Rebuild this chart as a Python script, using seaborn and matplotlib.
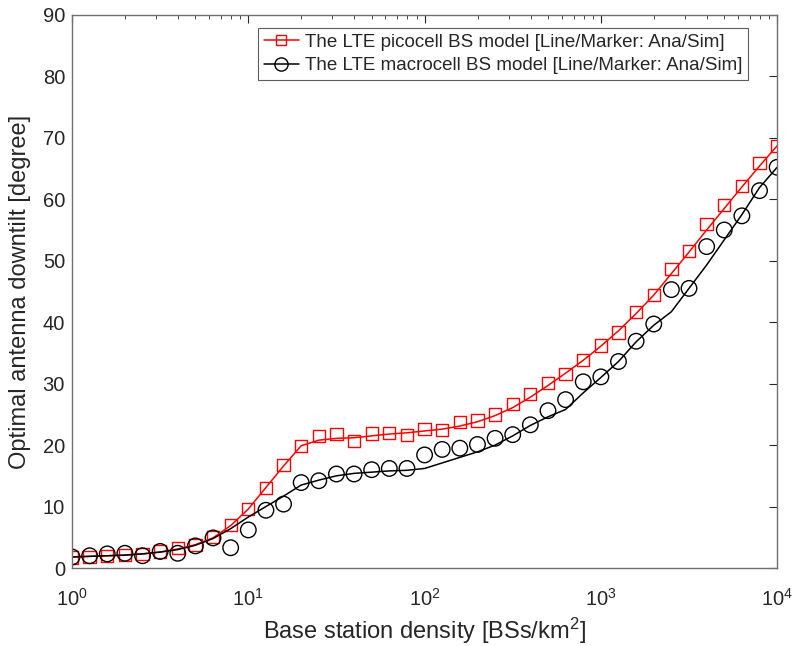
import numpy as np
import pandas as pd
import matplotlib
matplotlib.use("Agg")
import matplotlib.pyplot as plt
from matplotlib.lines import Line2D
from matplotlib.ticker import LogLocator, FixedLocator
import seaborn as sns

# Base station density sample points (10 per decade, 10^0 .. 10^4)
density = [10 ** (k / 10) for k in range(41)]

# Picocell: simulation markers and analytical line
pico_sim = [1.7, 1.8, 2.0, 2.1, 2.3, 2.7, 3.2, 3.7, 5.0, 7.0,
            9.6, 13.0, 16.8, 19.9, 21.5, 21.8, 20.7, 21.9, 22.0, 21.7,
            22.6, 22.5, 23.7, 24.0, 25.0, 26.7, 28.3, 30.1, 31.6, 33.8,
            36.2, 38.3, 41.7, 44.4, 48.6, 51.6, 56.0, 59.1, 62.2, 65.9, 68.7]
pico_ana = [1.8, 1.9, 2.0, 2.1, 2.3, 2.6, 3.1, 3.8, 4.9, 6.9,
            9.6, 13.1, 16.6, 19.9, 20.8, 21.1, 21.2, 21.5, 21.8, 22.0,
            22.3, 22.6, 23.1, 23.8, 24.8, 26.1, 27.8, 29.7, 31.7, 33.8,
            36.1, 38.6, 41.4, 44.4, 47.9, 51.4, 55.0, 58.5, 62.0, 65.4, 68.7]

# Macrocell: simulation markers and analytical line
macro_sim = [1.8, 2.0, 2.3, 2.4, 2.0, 2.7, 2.4, 3.6, 4.9, 3.3,
             6.2, 9.4, 10.4, 13.9, 14.2, 15.3, 15.3, 16.0, 16.2, 16.2,
             18.4, 19.3, 19.5, 20.1, 21.1, 21.7, 23.3, 25.6, 27.4, 30.3,
             31.1, 33.6, 36.9, 39.7, 45.3, 45.5, 52.3, 55.0, 57.3, 61.4, 65.2]
macro_ana = [1.8, 1.9, 2.0, 2.1, 2.3, 2.6, 3.0, 3.7, 4.8, 6.4,
             8.3, 10.0, 11.7, 13.5, 14.3, 15.0, 15.4, 15.6, 15.8, 15.9,
             16.2, 17.1, 18.0, 18.9, 20.0, 21.5, 23.2, 24.6, 25.8, 28.5,
             31.0, 33.6, 36.8, 39.5, 41.7, 45.5, 49.3, 53.4, 57.5, 61.9, 65.2]

x_ticks = [1, 10, 100, 1000, 10000]
x_tick_labels = [r"$10^{0}$", r"$10^{1}$", r"$10^{2}$", r"$10^{3}$", r"$10^{4}$"]
label_pico = "The LTE picocell BS model [Line/Marker: Ana/Sim]"
label_macro = "The LTE macrocell BS model [Line/Marker: Ana/Sim]"

sns.set_theme(style="white")
plt.rcParams['font.family'] = ['Liberation Sans', 'DejaVu Sans']
plt.rcParams['mathtext.fontset'] = 'custom'
plt.rcParams['mathtext.rm'] = 'Liberation Sans'
plt.rcParams['mathtext.it'] = 'Liberation Sans'

fig, ax = plt.subplots(figsize=(7.93, 6.46), dpi=100)
fig.subplots_adjust(left=0.0908, right=0.980, top=0.977, bottom=0.1207)

df_pico = pd.DataFrame({"x": density, "ana": pico_ana, "sim": pico_sim})
df_macro = pd.DataFrame({"x": density, "ana": macro_ana, "sim": macro_sim})

sns.lineplot(data=df_pico, x="x", y="ana", ax=ax, color="#ff0000", lw=1.1, legend=False)
sns.lineplot(data=df_macro, x="x", y="ana", ax=ax, color="black", lw=1.1, legend=False)
sns.scatterplot(data=df_pico, x="x", y="sim", ax=ax, marker="s", s=78,
                facecolors="none", edgecolor="#ff0000", linewidth=1.0, legend=False)
sns.scatterplot(data=df_macro, x="x", y="sim", ax=ax, marker="o", s=125,
                facecolors="none", edgecolor="black", linewidth=1.0, legend=False)

ax.set_xscale("log")
ax.set_xlim(1, 1e4)
ax.set_ylim(0, 90)
ax.set_yticks(range(0, 91, 10))
ax.xaxis.set_major_locator(FixedLocator(x_ticks))
ax.xaxis.set_minor_locator(LogLocator(base=10, subs=np.arange(2, 10)))
ax.set_xticklabels(x_tick_labels)

ax.set_xlabel(r"Base station density [BSs/km$^{2}$]", fontsize=17, color="#262626")
ax.set_ylabel("Optimal antenna downtilt [degree]", fontsize=17, color="#262626")
ax.yaxis.set_label_coords(-0.058, 0.5)
ax.xaxis.set_label_coords(0.5, -0.086)

ax.tick_params(axis="both", which="both", direction="in", top=True, right=True,
               colors="#262626", labelsize=14.5)
ax.tick_params(axis="both", which="major", length=6, width=0.8)
ax.tick_params(axis="both", which="minor", length=3, width=0.6)
ax.tick_params(axis="x", pad=14)
ax.tick_params(axis="y", pad=5)
for sp in ax.spines.values():
    sp.set_color("#707070")
    sp.set_linewidth(1.0)

handles = [
    Line2D([], [], color="#ff0000", lw=1.1, marker="s", markersize=7.5,
           markerfacecolor="none", markeredgecolor="#ff0000", markeredgewidth=1.0),
    Line2D([], [], color="black", lw=1.1, marker="o", markersize=9.5,
           markerfacecolor="none", markeredgecolor="black", markeredgewidth=1.0),
]
leg = ax.legend(handles, [label_pico, label_macro], loc="upper right",
                bbox_to_anchor=(0.959, 0.9765), fontsize=13.5, frameon=True,
                fancybox=False, edgecolor="#333333", handlelength=1.85,
                handletextpad=0.35, borderpad=0.3, labelspacing=0.35,
                borderaxespad=0.0)
leg.get_frame().set_linewidth(0.8)

fig.savefig("out.png", dpi=100)
